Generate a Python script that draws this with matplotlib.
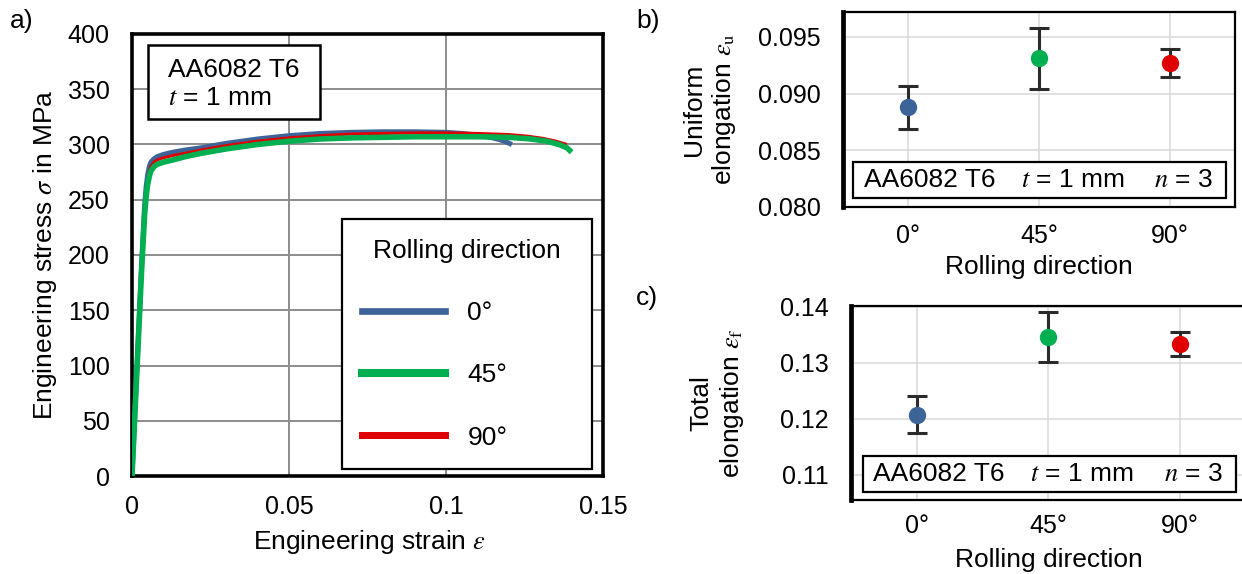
import matplotlib
matplotlib.use("Agg")
import matplotlib.pyplot as plt
from matplotlib.lines import Line2D
from matplotlib.patches import Rectangle
from matplotlib.ticker import FormatStrFormatter

plt.rcParams['font.family'] = ['Liberation Sans', 'DejaVu Sans']
plt.rcParams['mathtext.fontset'] = 'stix'

# ---------------- data ----------------
directions = ["0°", "45°", "90°"]
colors = ["#3C6499", "#00B050", "#E00000"]

strain_0 = [0, 0.001, 0.002, 0.003, 0.004, 0.0045, 0.005, 0.0055, 0.006, 0.007, 0.008, 0.010,
            0.013, 0.017, 0.022, 0.030, 0.040, 0.050, 0.060, 0.070, 0.080, 0.090, 0.100, 0.105,
            0.110, 0.114, 0.117, 0.119, 0.121]
stress_0 = [0, 63, 126, 189, 245, 262, 273, 280, 284, 287, 289, 291, 293, 295, 297, 301, 305,
            308, 310, 311, 311.5, 311.5, 311, 310, 308.5, 306.5, 304.5, 302.5, 300]

strain_45 = [0, 0.001, 0.002, 0.003, 0.004, 0.0045, 0.005, 0.0055, 0.006, 0.007, 0.008, 0.010,
             0.013, 0.017, 0.022, 0.030, 0.040, 0.050, 0.060, 0.070, 0.080, 0.090, 0.100, 0.110,
             0.120, 0.127, 0.132, 0.136, 0.1385, 0.140]
stress_45 = [0, 61, 122, 183, 236, 253, 264, 271, 276, 280, 282, 284, 286, 289, 292, 296, 300,
             303, 305, 306, 306.5, 307, 307, 307, 306.5, 305, 303, 300, 297, 293]

strain_90 = [0, 0.001, 0.002, 0.003, 0.004, 0.0045, 0.005, 0.0055, 0.006, 0.007, 0.008, 0.010,
             0.013, 0.017, 0.022, 0.030, 0.040, 0.050, 0.060, 0.070, 0.080, 0.090, 0.100, 0.110,
             0.120, 0.126, 0.131, 0.135, 0.1385]
stress_90 = [0, 62, 124, 186, 240, 257, 268, 276, 280, 284, 286, 288, 290, 292, 295, 299, 303,
             306, 308, 309.5, 310, 310.5, 310.5, 310, 309, 307.5, 305.5, 303, 300]

uniform_mean = [0.0888, 0.0931, 0.0927]
uniform_err = [0.0019, 0.0027, 0.0012]
total_mean = [0.1207, 0.1346, 0.1333]
total_err = [0.0033, 0.0045, 0.0021]

a_xticks = [0, 0.05, 0.1, 0.15]
a_xticklabels = ["0", "0.05", "0.1", "0.15"]
a_yticks = [0, 50, 100, 150, 200, 250, 300, 350, 400]
b_yticks = [0.080, 0.085, 0.090, 0.095]
c_yticks = [0.11, 0.12, 0.13, 0.14]

# ---------------- figure ----------------
fig = plt.figure(figsize=(12.42, 5.74), dpi=100)
TICK_FS = 18
LAB_FS = 19
ERR_COLOR = "#2B2B2B"

# ---- panel a ----
ax = fig.add_axes([0.1063, 0.1707, 0.3792, 0.7701])
ax.plot(strain_0, stress_0, color=colors[0], lw=3.6, solid_capstyle='butt', zorder=3)
ax.plot(strain_90, stress_90, color=colors[2], lw=2.2, solid_capstyle='butt', zorder=4)
ax.plot(strain_45, stress_45, color=colors[1], lw=4.0, solid_capstyle='butt', zorder=5)
ax.set_xlim(0, 0.15)
ax.set_ylim(0, 400)
ax.set_xticks(a_xticks)
ax.set_xticklabels(a_xticklabels)
ax.set_yticks(a_yticks)
ax.tick_params(length=0, labelsize=TICK_FS)
ax.tick_params(axis='x', pad=14)
ax.tick_params(axis='y', pad=16)
ax.grid(True, color="#8C8C8C", lw=1.4)
ax.set_axisbelow(True)
for s in ax.spines.values():
    s.set_linewidth(2.6)
    s.set_color("black")
ax.set_xlabel(r"Engineering strain $\varepsilon$", fontsize=LAB_FS, va='center')
ax.xaxis.set_label_coords(0.505, -0.149)
ax.set_ylabel(r"Engineering stress $\sigma$ in MPa", fontsize=LAB_FS, va='center', ha='center')
ax.yaxis.set_label_coords(-0.185, 0.5)

ax.add_patch(Rectangle((0.034, 0.808), 0.365, 0.167, transform=ax.transAxes,
                       facecolor='white', edgecolor='black', lw=1.8, zorder=6))
ax.text(0.0764, 0.886, "AA6082 T6\n$t$ = 1 mm", transform=ax.transAxes, fontsize=LAB_FS,
        ha='left', va='center', linespacing=1.2, zorder=7)

handles = [Line2D([], [], color=colors[0], lw=4.8),
           Line2D([], [], color=colors[1], lw=5.8),
           Line2D([], [], color=colors[2], lw=5.0)]
leg = ax.legend(handles, directions, title="Rolling direction", loc='upper left',
                bbox_to_anchor=(0.446, (476 - 219) / 442, 0.531, 0.0), mode='expand',
                fontsize=LAB_FS, title_fontsize=LAB_FS, frameon=True, fancybox=False,
                framealpha=1, edgecolor='black', borderpad=0.75, labelspacing=1.45,
                handlelength=3.15, handletextpad=0.85, borderaxespad=0)
leg.get_frame().set_linewidth(1.6)
leg.set_zorder(8)

fig.text(0.008, 0.963, "a)", fontsize=LAB_FS, ha='left', va='center')

# ---- panels b and c ----
def cat_panel(rect, means, errs, yticks, ylim, fmt, ylabel, label_x, xlabel_y, box, texts, xpad):
    axp = fig.add_axes(rect)
    xs = list(range(len(directions)))
    axp.errorbar(xs, means, yerr=errs, fmt='none', ecolor=ERR_COLOR, elinewidth=2.2,
                 capsize=7.5, capthick=2.2, zorder=3)
    for i in xs:
        axp.plot([xs[i]], [means[i]], 'o', color=colors[i], markersize=12.5,
                 markeredgewidth=0, zorder=4)
    axp.set_xlim(-0.5, 2.5)
    axp.set_ylim(*ylim)
    axp.set_xticks(xs)
    axp.set_xticklabels(directions)
    axp.set_yticks(yticks)
    axp.yaxis.set_major_formatter(FormatStrFormatter(fmt))
    axp.tick_params(length=0, labelsize=TICK_FS)
    axp.tick_params(axis='x', pad=xpad)
    axp.tick_params(axis='y', pad=16)
    axp.grid(True, color="#D9D9D9", lw=1.1)
    axp.set_axisbelow(True)
    for k, s in axp.spines.items():
        s.set_color("black")
        s.set_linewidth(1.6)
    axp.spines['left'].set_linewidth(3.4)
    axp.set_xlabel("Rolling direction", fontsize=LAB_FS, va='center')
    axp.xaxis.set_label_coords(0.5, xlabel_y)
    axp.set_ylabel(ylabel, fontsize=LAB_FS, va='center', ha='center', multialignment='center')
    axp.yaxis.set_label_coords(label_x, 0.5)
    x0, y0, x1, y1 = box
    axp.add_patch(Rectangle((x0, y0), x1 - x0, y1 - y0, transform=axp.transAxes,
                            facecolor='white', edgecolor='black', lw=1.6, zorder=6))
    yc = (y0 + y1) / 2
    for (tx, ha, s) in texts:
        axp.text(tx, yc, s, transform=axp.transAxes, fontsize=LAB_FS, ha=ha, va='center',
                 zorder=7)
    return axp

cat_panel([0.6787, 0.6394, 0.3157, 0.3397], uniform_mean, uniform_err, b_yticks,
          (0.080, 0.0972), '%.3f', "Uniform\nelongation $\\varepsilon_\\mathrm{u}$",
          -0.339, -0.308, (0.0255, 0.046, 0.977, 0.231),
          [(0.0536, 'left', "AA6082 T6"), (0.587, 'center', "$t$ = 1 mm"),
           (0.944, 'right', "$n$ = 3")], 12)
fig.text(0.512, 0.963, "b)", fontsize=LAB_FS, ha='left', va='center')

cat_panel([0.6852, 0.1289, 0.318, 0.338], total_mean, total_err, c_yticks,
          (0.10545, 0.1401), '%.2f', "Total\nelongation $\\varepsilon_\\mathrm{f}$",
          -0.337, -0.309, (0.030, 0.041, 0.975, 0.227),
          [(0.0557, 'left', "AA6082 T6"), (0.585, 'center', "$t$ = 1 mm"),
           (0.942, 'right', "$n$ = 3")], 10)
fig.text(0.512, 0.481, "c)", fontsize=LAB_FS, ha='left', va='center')

fig.savefig("out.png", dpi=100)
